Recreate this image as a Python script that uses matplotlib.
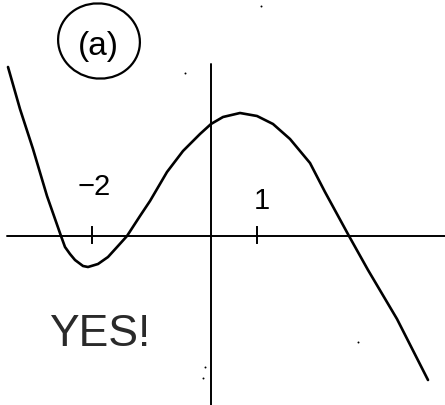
import matplotlib
matplotlib.use("Agg")
import matplotlib.pyplot as plt
from matplotlib.patches import Ellipse

# Sketched curve, traced point by point (graph units, origin at the axes crossing)
curve_x = [-4.06, -3.82, -3.56, -3.28, -3.00, -2.92, -2.82, -2.72, -2.56, -2.46,
           -2.26, -2.06, -1.86, -1.68, -1.42, -1.22, -0.88, -0.56, -0.22, 0.00,
           0.24, 0.58, 0.92, 1.24, 1.58, 1.98, 2.28, 2.76, 3.14, 3.72, 4.34]
curve_y = [3.38, 2.54, 1.74, 0.80, 0.00, -0.22, -0.36, -0.48, -0.60, -0.62,
           -0.56, -0.42, -0.20, 0.00, 0.40, 0.70, 1.28, 1.70, 2.04, 2.24,
           2.38, 2.46, 2.40, 2.24, 1.94, 1.46, 0.88, 0.00, -0.68, -1.66, -2.88]

# Axis extents and marked ticks
x_axis_span = [-4.08, 4.68]
y_axis_span = [-3.38, 3.44]
tick_pos = [-2.38, 0.92]
tick_labels = ["\u22122", "1"]
tick_label_pos = [(-2.34, 1.00), (1.02, 0.72)]

# Pencil specks on the sheet
speck_x = [2.94, -0.52, 1.00, -0.12, -0.16]
speck_y = [-2.12, 3.26, 4.60, -2.62, -2.84]

fig = plt.figure(figsize=(4.45, 4.06), dpi=100)
ax = fig.add_axes([0, 0, 1, 1])
ax.set_xlim(-4.22, 4.68)
ax.set_ylim(-3.38, 4.74)
ax.axis("off")

ink = "black"

# axes
ax.plot(x_axis_span, [0, 0], color=ink, lw=1.4, solid_capstyle="round")
ax.plot([0, 0], y_axis_span, color=ink, lw=1.4, solid_capstyle="round")

# tick marks and labels
for t in tick_pos:
    ax.plot([t, t], [-0.14, 0.18], color=ink, lw=1.4)
for lab, (lx, ly) in zip(tick_labels, tick_label_pos):
    ax.text(lx, ly, lab, fontsize=21, ha="center", va="center",
            family=["Liberation Sans", "DejaVu Sans"], color=ink)

# the curve
ax.plot(curve_x, curve_y, color=ink, lw=1.9,
        solid_joinstyle="round", solid_capstyle="round")

# circled part label
ax.add_patch(Ellipse((-2.24, 3.90), 1.64, 1.50, angle=-10,
                     fill=False, edgecolor=ink, lw=1.6))
ax.text(-2.26, 3.82, "(a)", fontsize=24, ha="center", va="center",
        family=["Liberation Sans", "DejaVu Sans"], color=ink)

# note
ax.text(-2.22, -1.94, "YES!", fontsize=32, ha="center", va="center",
        family=["Liberation Sans Narrow", "Liberation Sans", "DejaVu Sans"],
        weight="light", color="#2a2a2a")

ax.scatter(speck_x, speck_y, s=2, color=ink, linewidths=0)

fig.savefig("out.png", dpi=100)
